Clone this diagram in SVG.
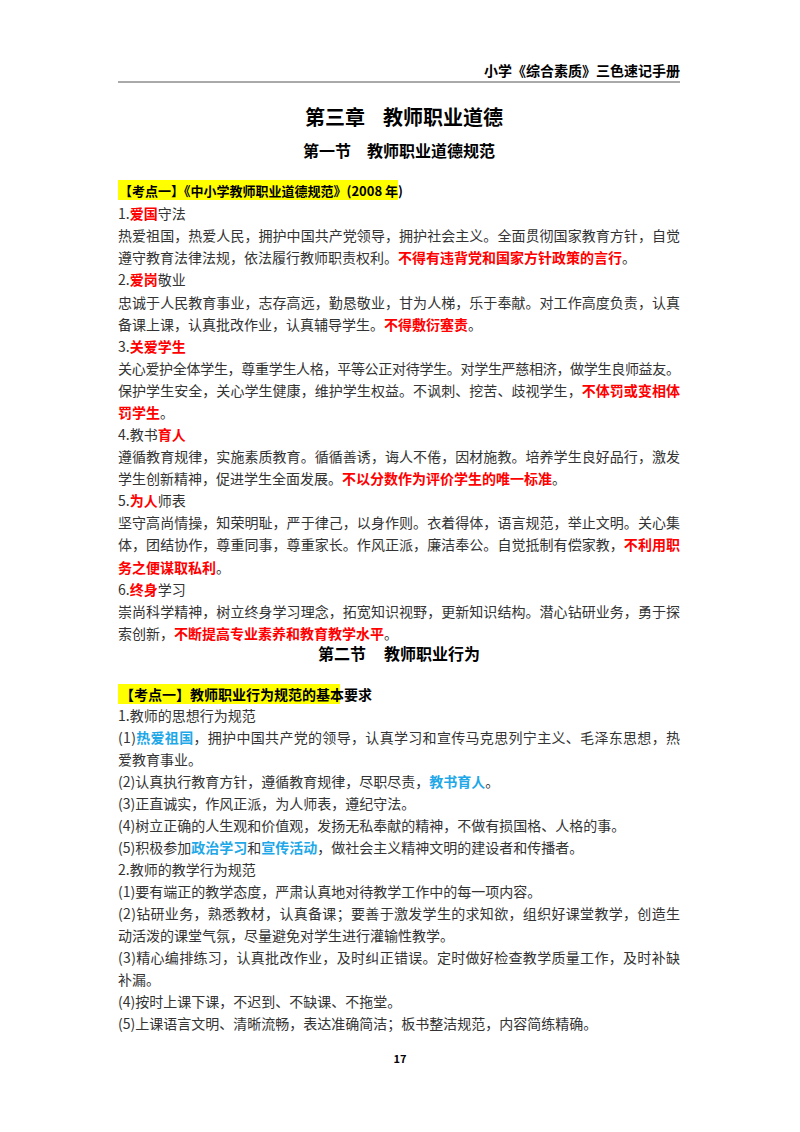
<svg xmlns="http://www.w3.org/2000/svg" width="800" height="1132" viewBox="0 0 800 1132">
<style>
text{font-family:"Noto Sans CJK SC","Liberation Serif",sans-serif;font-size:14px;fill:#333}
.b{font-weight:bold;fill:#000}
.r{fill:#ff0000;font-weight:bold}
.c{fill:#1fa8e8;font-weight:bold}
.t{font-weight:bold;fill:#000}
</style>
<rect width="800" height="1132" fill="#fff"/>
<text x="680" y="76" text-anchor="end" class="b" font-size="14">小学《综合素质》三色速记手册</text>
<line x1="118" y1="82" x2="680" y2="82" stroke="#555" stroke-width="1"/>
<text x="305" y="125" class="t" style="font-size:20px">第三章</text>
<text x="383" y="125" class="t" style="font-size:20px">教师职业道德</text>
<text x="303" y="157" class="t" style="font-size:16px">第一节</text>
<text x="367" y="157" class="t" style="font-size:16px">教师职业道德规范</text>
<rect x="118" y="180" width="280" height="20" fill="#ffff00"/>
<text x="119" y="196" class="b" style="font-size:13px">【考点一】《中小学教师职业道德规范》(2008 年)</text>
<text x="118" y="219">1.<tspan class="r">爱国</tspan>守法</text>
<text x="118" y="241" textLength="562" lengthAdjust="spacing">热爱祖国，热爱人民，拥护中国共产党领导，拥护社会主义。全面贯彻国家教育方针，自觉</text>
<text x="118" y="263">遵守教育法律法规，依法履行教师职责权利。<tspan class="r">不得有违背党和国家方针政策的言行</tspan>。</text>
<text x="118" y="285">2.<tspan class="r">爱岗</tspan>敬业</text>
<text x="118" y="308" textLength="562" lengthAdjust="spacing">忠诚于人民教育事业，志存高远，勤恳敬业，甘为人梯，乐于奉献。对工作高度负责，认真</text>
<text x="118" y="330">备课上课，认真批改作业，认真辅导学生。<tspan class="r">不得敷衍塞责</tspan>。</text>
<text x="118" y="352">3.<tspan class="r">关爱学生</tspan></text>
<text x="118" y="374" textLength="562" lengthAdjust="spacing">关心爱护全体学生，尊重学生人格，平等公正对待学生。对学生严慈相济，做学生良师益友。</text>
<text x="118" y="396" textLength="562" lengthAdjust="spacing">保护学生安全，关心学生健康，维护学生权益。不讽刺、挖苦、歧视学生，<tspan class="r">不体罚或变相体</tspan></text>
<text x="118" y="418"><tspan class="r">罚学生</tspan>。</text>
<text x="118" y="440">4.教书<tspan class="r">育人</tspan></text>
<text x="118" y="462" textLength="562" lengthAdjust="spacing">遵循教育规律，实施素质教育。循循善诱，诲人不倦，因材施教。培养学生良好品行，激发</text>
<text x="118" y="484">学生创新精神，促进学生全面发展。<tspan class="r">不以分数作为评价学生的唯一标准</tspan>。</text>
<text x="118" y="506">5.<tspan class="r">为人</tspan>师表</text>
<text x="118" y="528" textLength="562" lengthAdjust="spacing">坚守高尚情操，知荣明耻，严于律己，以身作则。衣着得体，语言规范，举止文明。关心集</text>
<text x="118" y="550" textLength="562" lengthAdjust="spacing">体，团结协作，尊重同事，尊重家长。作风正派，廉洁奉公。自觉抵制有偿家教，<tspan class="r">不利用职</tspan></text>
<text x="118" y="573"><tspan class="r">务之便谋取私利</tspan>。</text>
<text x="118" y="595">6.<tspan class="r">终身</tspan>学习</text>
<text x="118" y="617" textLength="562" lengthAdjust="spacing">崇尚科学精神，树立终身学习理念，拓宽知识视野，更新知识结构。潜心钻研业务，勇于探</text>
<text x="118" y="639">索创新，<tspan class="r">不断提高专业素养和教育教学水平</tspan>。</text>
<text x="318" y="660" class="t" style="font-size:16px">第二节</text>
<text x="384" y="660" class="t" style="font-size:16px">教师职业行为</text>
<rect x="118" y="684" width="222" height="20" fill="#ffff00"/>
<text x="120" y="700" class="b">【考点一】教师职业行为规范的基本要求</text>
<text x="118" y="721">1.教师的思想行为规范</text>
<text x="118" y="743" textLength="562" lengthAdjust="spacing">(1)<tspan class="c">热爱祖国</tspan>，拥护中国共产党的领导，认真学习和宣传马克思列宁主义、毛泽东思想，热</text>
<text x="118" y="765">爱教育事业。</text>
<text x="118" y="787">(2)认真执行教育方针，遵循教育规律，尽职尽责，<tspan class="c">教书育人</tspan>。</text>
<text x="118" y="809">(3)正直诚实，作风正派，为人师表，遵纪守法。</text>
<text x="118" y="831">(4)树立正确的人生观和价值观，发扬无私奉献的精神，不做有损国格、人格的事。</text>
<text x="118" y="853">(5)积极参加<tspan class="c">政治学习</tspan>和<tspan class="c">宣传活动</tspan>，做社会主义精神文明的建设者和传播者。</text>
<text x="118" y="875">2.教师的教学行为规范</text>
<text x="118" y="897">(1)要有端正的教学态度，严肃认真地对待教学工作中的每一项内容。</text>
<text x="118" y="919" textLength="562" lengthAdjust="spacing">(2)钻研业务，熟悉教材，认真备课；要善于激发学生的求知欲，组织好课堂教学，创造生</text>
<text x="118" y="941">动活泼的课堂气氛，尽量避免对学生进行灌输性教学。</text>
<text x="118" y="963" textLength="562" lengthAdjust="spacing">(3)精心编排练习，认真批改作业，及时纠正错误。定时做好检查教学质量工作，及时补缺</text>
<text x="118" y="985">补漏。</text>
<text x="118" y="1007">(4)按时上课下课，不迟到、不缺课、不拖堂。</text>
<text x="118" y="1029">(5)上课语言文明、清晰流畅，表达准确简洁；板书整洁规范，内容简练精确。</text>
<text x="400" y="1063" text-anchor="middle" style="font-size:11px;font-weight:bold;fill:#000">17</text>
</svg>
